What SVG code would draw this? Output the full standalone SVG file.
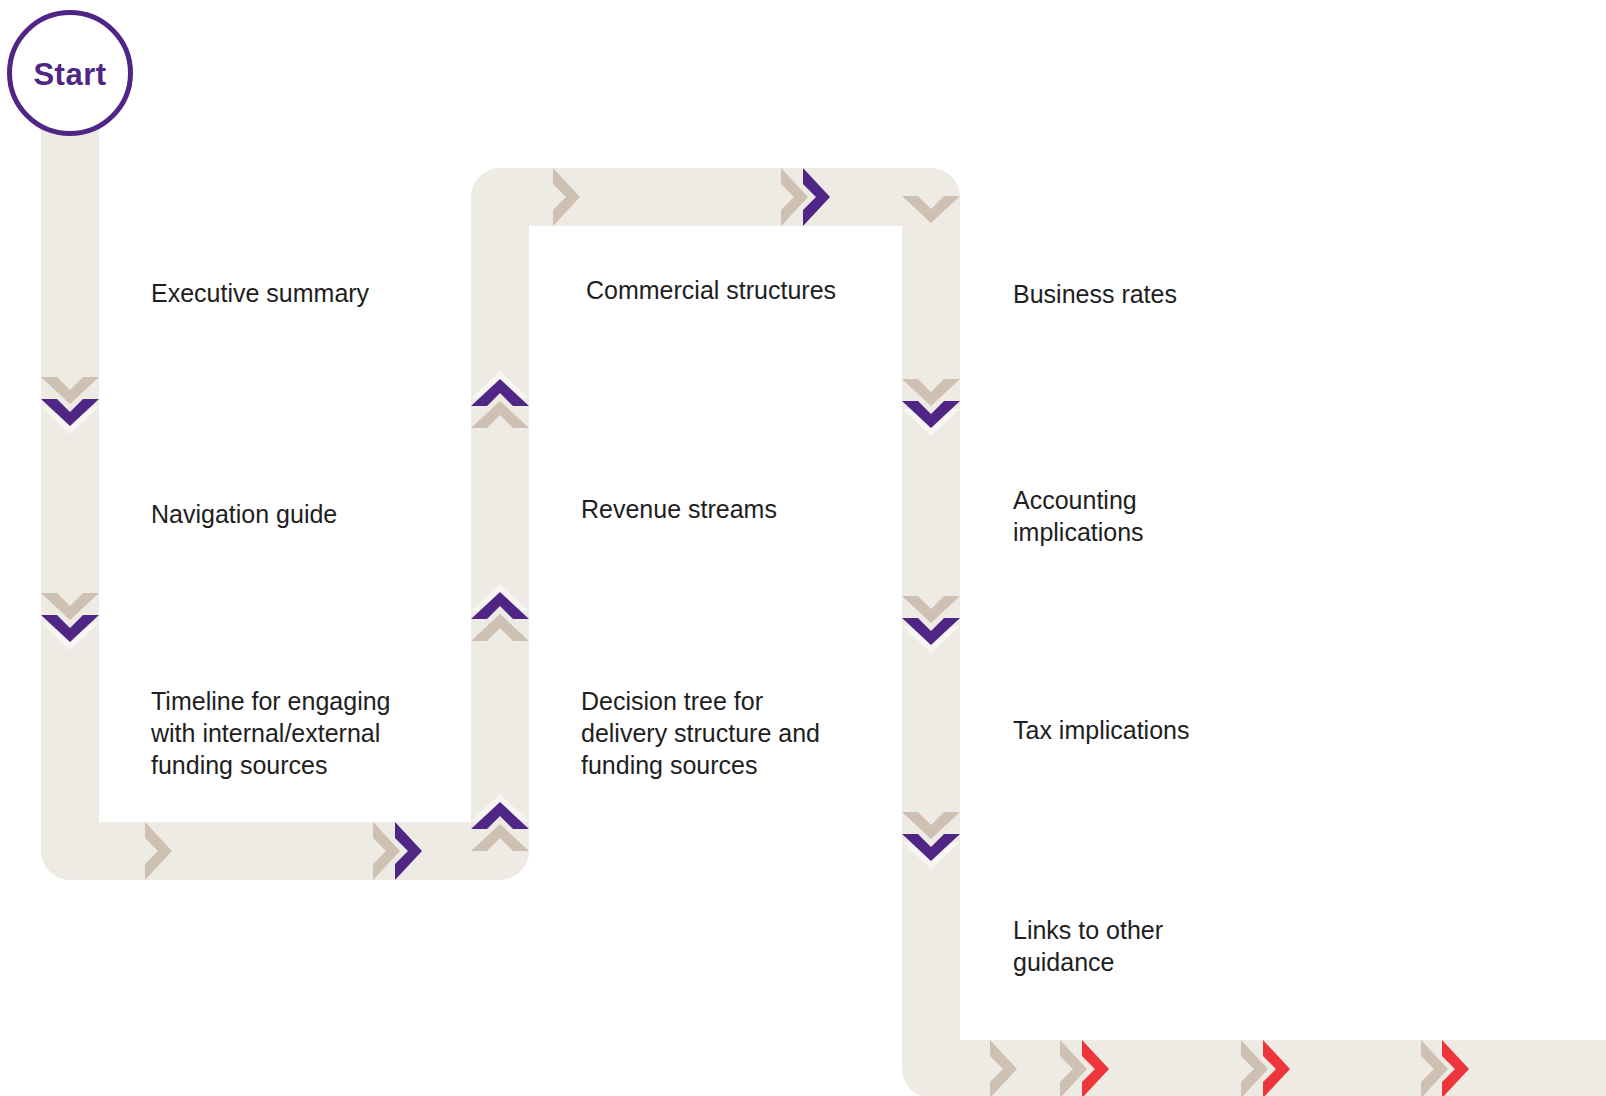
<svg xmlns="http://www.w3.org/2000/svg" xmlns:xlink="http://www.w3.org/1999/xlink" width="1606" height="1096" viewBox="0 0 1606 1096">
<style>
.lbl{font-family:"Liberation Sans",Arial,sans-serif;font-size:25px;fill:#1e1e1e;}
.b{fill:#cec1b3;}
.p{fill:#4f2585;}
.r{fill:#ee353b;}
.h{fill:#f8f6f3;}
</style>
<defs>
<path id="chev" d="M0,-29 L27,0 L0,29 L0,13 L13,0 L0,-13 Z"/>
</defs>
<rect width="1606" height="1096" fill="#ffffff"/>
<g id="connectors">
<path d="M70,100 V851 H500 V197 H931 V1069 H1640" fill="none" stroke="#eeebe5" stroke-width="58" stroke-linejoin="round"/>
<use xlink:href="#chev" class="b" transform="translate(70,377) rotate(90)"/>
<use xlink:href="#chev" class="h" transform="translate(70,407) rotate(90)"/>
<use xlink:href="#chev" class="p" transform="translate(70,399) rotate(90)"/>
<use xlink:href="#chev" class="b" transform="translate(70,593) rotate(90)"/>
<use xlink:href="#chev" class="h" transform="translate(70,623) rotate(90)"/>
<use xlink:href="#chev" class="p" transform="translate(70,615) rotate(90)"/>
<use xlink:href="#chev" class="b" transform="translate(145,851)"/>
<use xlink:href="#chev" class="b" transform="translate(373,851)"/>
<use xlink:href="#chev" class="p" transform="translate(395,851)"/>
<use xlink:href="#chev" class="b" transform="translate(500,851) rotate(-90)"/>
<use xlink:href="#chev" class="h" transform="translate(500,821) rotate(-90)"/>
<use xlink:href="#chev" class="p" transform="translate(500,829) rotate(-90)"/>
<use xlink:href="#chev" class="b" transform="translate(500,641) rotate(-90)"/>
<use xlink:href="#chev" class="h" transform="translate(500,611) rotate(-90)"/>
<use xlink:href="#chev" class="p" transform="translate(500,619) rotate(-90)"/>
<use xlink:href="#chev" class="b" transform="translate(500,428) rotate(-90)"/>
<use xlink:href="#chev" class="h" transform="translate(500,398) rotate(-90)"/>
<use xlink:href="#chev" class="p" transform="translate(500,406) rotate(-90)"/>
<use xlink:href="#chev" class="b" transform="translate(553,197)"/>
<use xlink:href="#chev" class="b" transform="translate(781,197)"/>
<use xlink:href="#chev" class="p" transform="translate(803,197)"/>
<use xlink:href="#chev" class="b" transform="translate(931,196) rotate(90)"/>
<use xlink:href="#chev" class="b" transform="translate(931,379) rotate(90)"/>
<use xlink:href="#chev" class="h" transform="translate(931,409) rotate(90)"/>
<use xlink:href="#chev" class="p" transform="translate(931,401) rotate(90)"/>
<use xlink:href="#chev" class="b" transform="translate(931,596) rotate(90)"/>
<use xlink:href="#chev" class="h" transform="translate(931,626) rotate(90)"/>
<use xlink:href="#chev" class="p" transform="translate(931,618) rotate(90)"/>
<use xlink:href="#chev" class="b" transform="translate(931,812) rotate(90)"/>
<use xlink:href="#chev" class="h" transform="translate(931,842) rotate(90)"/>
<use xlink:href="#chev" class="p" transform="translate(931,834) rotate(90)"/>
<use xlink:href="#chev" class="b" transform="translate(990,1069)"/>
<use xlink:href="#chev" class="b" transform="translate(1060,1069)"/>
<use xlink:href="#chev" class="r" transform="translate(1082,1069)"/>
<use xlink:href="#chev" class="b" transform="translate(1241,1069)"/>
<use xlink:href="#chev" class="r" transform="translate(1263,1069)"/>
<use xlink:href="#chev" class="b" transform="translate(1421,1069)"/>
<use xlink:href="#chev" class="r" transform="translate(1442,1069)"/>
</g>
<g id="start">
<circle cx="70" cy="73" r="60.5" fill="#ffffff" stroke="#4f2585" stroke-width="5"/>
<text x="70" y="85" text-anchor="middle" style="font-family:'Liberation Sans',Arial,sans-serif;font-size:31px;font-weight:bold;fill:#4f2585;letter-spacing:0.5px">Start</text>
</g>
<g id="executive-summary"><text class="lbl" x="151" y="302">Executive summary</text></g>
<g id="navigation-guide"><text class="lbl" x="151" y="523">Navigation guide</text></g>
<g id="timeline"><text class="lbl" x="151" y="710">Timeline for engaging</text><text class="lbl" x="151" y="742">with internal/external</text><text class="lbl" x="151" y="774">funding sources</text></g>
<g id="commercial-structures"><text class="lbl" x="586" y="299">Commercial structures</text></g>
<g id="revenue-streams"><text class="lbl" x="581" y="518">Revenue streams</text></g>
<g id="decision-tree"><text class="lbl" x="581" y="710">Decision tree for</text><text class="lbl" x="581" y="742">delivery structure and</text><text class="lbl" x="581" y="774">funding sources</text></g>
<g id="business-rates"><text class="lbl" x="1013" y="303">Business rates</text></g>
<g id="accounting-implications"><text class="lbl" x="1013" y="509">Accounting</text><text class="lbl" x="1013" y="541">implications</text></g>
<g id="tax-implications"><text class="lbl" x="1013" y="739">Tax implications</text></g>
<g id="links"><text class="lbl" x="1013" y="939">Links to other</text><text class="lbl" x="1013" y="971">guidance</text></g>
</svg>
